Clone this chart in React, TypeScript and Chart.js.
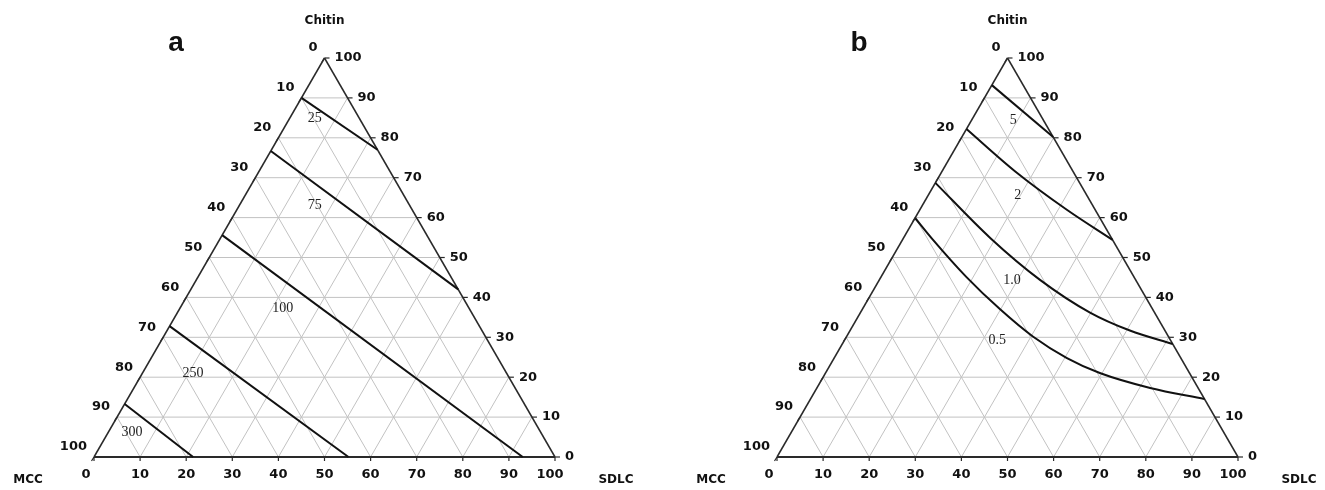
import React, { useEffect, useRef } from 'react';
import { Chart, registerables } from 'chart.js';
Chart.register(...registerables);

const H = Math.sqrt(3) / 2;

// tick labels along each side (percent)
const tickValues = [0, 10, 20, 30, 40, 50, 60, 70, 80, 90, 100];
const gridValues = [10, 20, 30, 40, 50, 60, 70, 80, 90];

// Axis titles
const topTitle = 'Chitin';
const leftTitle = 'MCC';
const rightTitle = 'SDLC';

// Panel a contour lines, points as [SDLC %, Chitin %]
const contourA25 = [[0, 90], [23, 77]];
const contourA75 = [[0, 76.7], [58, 42]];
const contourA100 = [[0, 55.6], [93, 0]];
const contourA250 = [[0, 32.8], [55.2, 0]];
const contourA300 = [[0, 13.3], [21.5, 0]];
const contourLabelsA = ['25', '75', '100', '250', '300'];
const contourLabelAnchorsA = [[5.4, 85], [16.3, 63.2], [22.3, 37.3], [11, 21], [5.1, 6.3]];

// Panel b contour lines, points as [SDLC %, Chitin %]
const contourB5 = [[0, 93.2], [19.8, 80.2]];
const contourB2 = [[0, 82.2], [16, 71.5], [32, 61.9], [45.6, 54.4]];
const contourB10 = [[0, 68.7], [18.8, 54.9], [34.85, 44.4], [49.8, 36.2], [60.7, 31.7], [71.7, 28.3]];
const contourB05 = [[0, 59.9], [6.65, 54.4], [18.4, 45.2], [29.9, 37.0], [40.4, 30.2], [50.5, 24.8], [59.5, 21.05], [72.3, 17.3], [85.5, 14.5]];
const contourLabelsB = ['5', '2', '1.0', '0.5'];
const contourLabelAnchorsB = [[9, 84.5], [19.4, 65.7], [28.8, 44.4], [33.1, 29.3]];

const toXY = (p: number[]) => ({ x: p[0] + p[1] / 2, y: p[1] * H });

const TICK_FONT = 'bold 13px "DejaVu Sans"';

function buildDatasets(contours: number[][][], curved: boolean) {
  const ds: any[] = [];
  const gridStyle = { borderColor: '#c2c2c2', borderWidth: 1, order: 3 };
  gridValues.forEach((c) => ds.push({ data: [toXY([0, c]), toXY([100 - c, c])], ...gridStyle }));
  gridValues.forEach((s) => ds.push({ data: [toXY([s, 0]), toXY([s, 100 - s])], ...gridStyle }));
  gridValues.forEach((m) => ds.push({ data: [toXY([100 - m, 0]), toXY([0, 100 - m])], ...gridStyle }));
  const edgeStyle = { borderColor: '#2a2a2a', borderWidth: 1.5, order: 2 };
  ds.push({ data: [toXY([0, 0]), toXY([100, 0])], ...edgeStyle, borderWidth: 2 });
  ds.push({ data: [toXY([0, 0]), toXY([0, 100])], ...edgeStyle });
  ds.push({ data: [toXY([100, 0]), toXY([0, 100])], ...edgeStyle });
  contours.forEach((line) =>
    ds.push({
      data: line.map(toXY),
      borderColor: '#111',
      borderWidth: 2,
      order: 1,
      cubicInterpolationMode: curved && line.length > 2 ? 'monotone' : 'default',
      tension: curved && line.length > 2 ? 0.4 : 0,
    })
  );
  return ds.map((d) => ({ showLine: true, pointRadius: 0, fill: false, clip: false, ...d }));
}

function makeTextPlugin(letter: string, labels: string[], anchors: number[][]) {
  return {
    id: 'ternaryText' + letter,
    afterDatasetsDraw(chart: any) {
      const ctx = chart.ctx;
      const xs = chart.scales.x;
      const ys = chart.scales.y;
      const px = (p: number[]) => {
        const q = toXY(p);
        return [xs.getPixelForValue(q.x), ys.getPixelForValue(q.y)];
      };
      ctx.save();
      ctx.strokeStyle = '#2a2a2a';
      ctx.lineWidth = 1.2;
      ctx.fillStyle = '#111';
      ctx.font = TICK_FONT;
      // left side: MCC
      tickValues.forEach((v) => {
        const [x, y] = px([0, 100 - v]);
        ctx.beginPath();
        ctx.moveTo(x, y);
        ctx.lineTo(x - 2.5, y + 4);
        ctx.stroke();
        ctx.textAlign = 'right';
        ctx.textBaseline = 'middle';
        ctx.fillText(String(v), x - 7, y - 10);
      });
      // right side: Chitin
      tickValues.forEach((v) => {
        const [x, y] = px([100 - v, v]);
        ctx.beginPath();
        ctx.moveTo(x, y);
        ctx.lineTo(x + 5, y);
        ctx.stroke();
        ctx.textAlign = 'left';
        ctx.textBaseline = 'middle';
        ctx.fillText(String(v), x + 10, y);
      });
      // bottom: SDLC
      tickValues.forEach((v) => {
        const [x, y] = px([v, 0]);
        ctx.beginPath();
        ctx.moveTo(x, y);
        ctx.lineTo(x, y + 4);
        ctx.stroke();
        ctx.textAlign = 'center';
        ctx.textBaseline = 'middle';
        const shift = v === 0 ? -8 : v === 100 ? -5 : 0;
        ctx.fillText(String(v), x + shift, y + 18);
      });
      const [tx, ty] = px([0, 100]);
      const [lx, ly] = px([0, 0]);
      const [rx, ry] = px([100, 0]);
      ctx.textAlign = 'center';
      ctx.textBaseline = 'middle';
      ctx.font = 'bold 12px "DejaVu Sans"';
      ctx.fillText(topTitle, tx, ty - 37);
      ctx.fillText(leftTitle, lx - 66, ly + 23);
      ctx.fillText(rightTitle, rx + 61, ry + 23);
      // panel letter
      ctx.font = 'bold 28px "Liberation Sans"';
      ctx.textBaseline = 'alphabetic';
      ctx.fillText(letter, lx + 82, ty - 7);
      // contour labels
      ctx.font = '14px "Liberation Serif"';
      ctx.fillStyle = '#222';
      ctx.textBaseline = 'middle';
      labels.forEach((t, i) => {
        const [x, y] = px(anchors[i]);
        ctx.fillText(t, x, y);
      });
      ctx.restore();
    },
  };
}

function TernaryPanel(props: {
  width: number;
  padRight: number;
  letter: string;
  contours: number[][][];
  labels: string[];
  anchors: number[][];
  curved: boolean;
}) {
  const ref = useRef<HTMLCanvasElement | null>(null);
  useEffect(() => {
    if (!ref.current) return;
    const chart = new Chart(ref.current, {
      type: 'scatter',
      data: { datasets: buildDatasets(props.contours, props.curved) },
      options: {
        responsive: false,
        animation: false,
        devicePixelRatio: 1,
        layout: { padding: { left: 94, right: props.padRight, top: 58, bottom: 33 } },
        scales: {
          x: { type: 'linear', min: 0, max: 100, display: false },
          y: { type: 'linear', min: 0, max: 100 * H, display: false },
        },
        plugins: { legend: { display: false }, tooltip: { enabled: false } },
        events: [],
      },
      plugins: [makeTextPlugin(props.letter, props.labels, props.anchors)],
    } as any);
    return () => chart.destroy();
  }, []);
  return <canvas ref={ref} width={props.width} height={490} style={{ display: 'block' }} />;
}

export default function App() {
  return (
    <div style={{ position: 'fixed', left: 0, top: 0, width: 1325, height: 490, display: 'flex', background: '#fff' }}>
      <TernaryPanel
        width={683}
        padRight={128}
        letter="a"
        contours={[contourA25, contourA75, contourA100, contourA250, contourA300]}
        labels={contourLabelsA}
        anchors={contourLabelAnchorsA}
        curved={false}
      />
      <TernaryPanel
        width={642}
        padRight={87}
        letter="b"
        contours={[contourB5, contourB2, contourB10, contourB05]}
        labels={contourLabelsB}
        anchors={contourLabelAnchorsB}
        curved={true}
      />
    </div>
  );
}
